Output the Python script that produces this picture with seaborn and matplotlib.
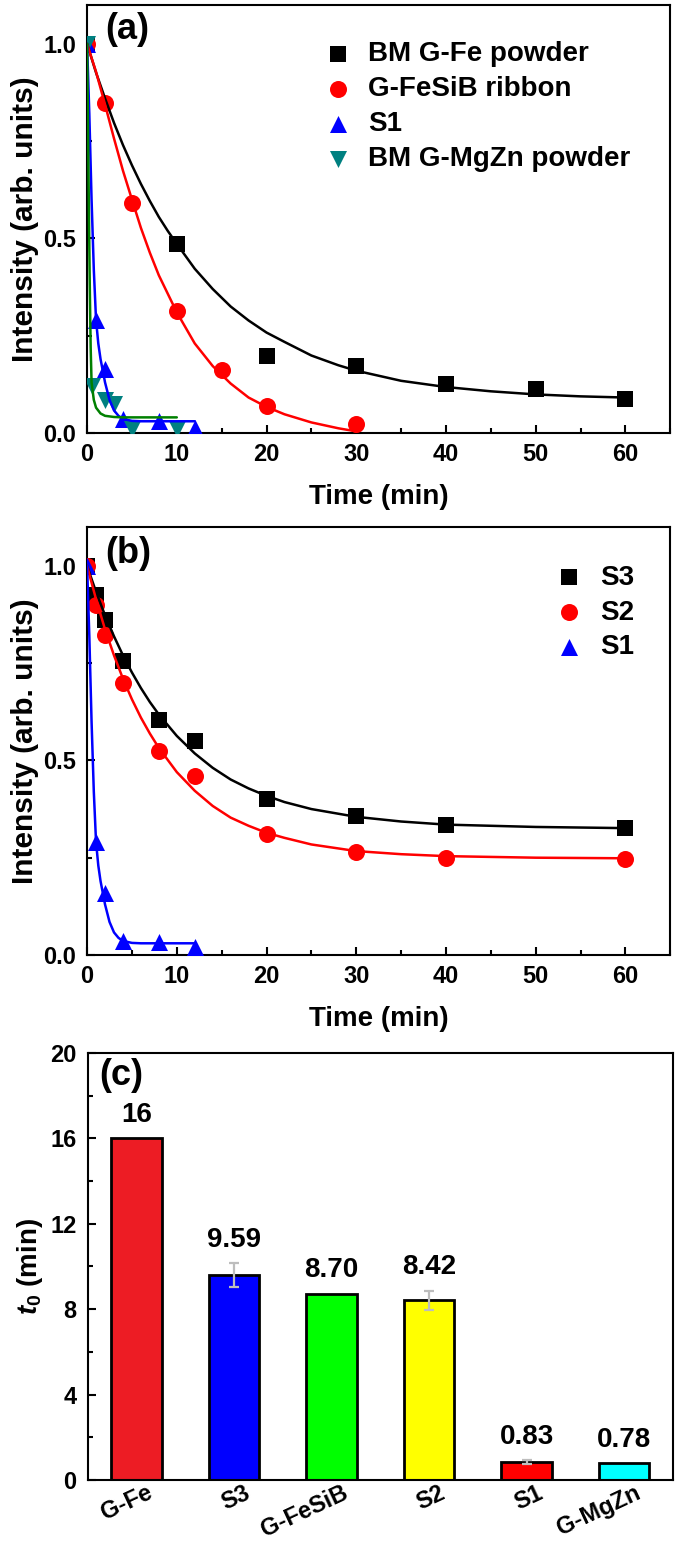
import numpy as np
import pandas as pd
import matplotlib
matplotlib.use('Agg')
import matplotlib.pyplot as plt
import matplotlib.transforms as mtransforms
import seaborn as sns
from matplotlib.ticker import MultipleLocator

# ---- (a) puntos medidos ----
t_fe = [0, 10, 20, 30, 40, 50, 60]
i_fe = [1.0, 0.485, 0.197, 0.172, 0.126, 0.113, 0.087]
t_fesib = [0, 2, 5, 10, 15, 20, 30]
i_fesib = [1.0, 0.849, 0.592, 0.313, 0.162, 0.069, 0.023]
t_s1 = [0, 1, 2, 4, 8, 12]
i_s1 = [1.0, 0.29, 0.165, 0.035, 0.03, 0.012]
t_mgzn = [0, 0.5, 2, 3, 5, 10]
i_mgzn = [1.0, 0.12, 0.085, 0.075, 0.01, 0.01]

# ---- (a) curvas de ajuste ----
ft_fe = [0, 1, 2, 3, 4, 5, 6, 7, 8, 9, 10, 12, 14, 16, 18, 20, 22, 25, 28, 30,
         35, 40, 45, 50, 55, 60]
fi_fe = [1.0, 0.926, 0.86, 0.797, 0.74, 0.688, 0.64, 0.596, 0.555, 0.519, 0.486,
         0.422, 0.37, 0.325, 0.289, 0.258, 0.234, 0.199, 0.174, 0.16,
         0.134, 0.118, 0.107, 0.099, 0.094, 0.091]
ft_fesib = [0, 1, 2, 3, 4, 5, 6, 7, 8, 10, 12, 14, 16, 18, 20, 22, 25, 28, 30]
fi_fesib = [1.0, 0.928, 0.844, 0.757, 0.674, 0.6, 0.527, 0.463, 0.405, 0.31, 0.23,
            0.172, 0.127, 0.091, 0.067, 0.048, 0.027, 0.012, 0.004]
ft_s1 = [0, 0.25, 0.5, 0.75, 1, 1.25, 1.5, 2, 2.5, 3, 3.5, 4, 5, 6, 8, 10, 12]
fi_s1 = [1.0, 0.82, 0.6, 0.42, 0.29, 0.23, 0.19, 0.13, 0.085, 0.058, 0.044, 0.036,
         0.031, 0.03, 0.03, 0.03, 0.03]
ft_mgzn = [0, 0.1, 0.2, 0.3, 0.4, 0.5, 0.75, 1, 1.5, 2, 3, 4, 6, 8, 10]
fi_mgzn = [1.0, 0.8, 0.58, 0.38, 0.22, 0.13, 0.085, 0.065, 0.05, 0.044, 0.041,
           0.04, 0.04, 0.04, 0.04]

# ---- (b) puntos medidos ----
t_b = [0, 1, 2, 4, 8, 12, 20, 30, 40, 60]
i_s3 = [1.0, 0.925, 0.86, 0.755, 0.603, 0.55, 0.402, 0.358, 0.335, 0.327]
i_s2 = [1.0, 0.9, 0.822, 0.698, 0.523, 0.461, 0.312, 0.265, 0.25, 0.247]
t_s1b = [0, 1, 2, 4, 8, 12]
i_s1b = [1.0, 0.29, 0.16, 0.037, 0.033, 0.02]

# ---- (b) curvas de ajuste ----
ft_b = [0, 1, 2, 3, 4, 5, 6, 7, 8, 10, 12, 14, 16, 18, 20, 22, 25, 30, 35, 40,
        50, 60]
fi_s3 = [1.0, 0.933, 0.873, 0.819, 0.77, 0.726, 0.686, 0.65, 0.618, 0.563, 0.518,
         0.481, 0.451, 0.428, 0.409, 0.393, 0.375, 0.355, 0.343, 0.335, 0.329, 0.326]
fi_s2 = [1.0, 0.914, 0.837, 0.77, 0.71, 0.657, 0.61, 0.569, 0.532, 0.47, 0.422,
         0.383, 0.353, 0.332, 0.314, 0.301, 0.284, 0.267, 0.259, 0.254, 0.25, 0.2485]

# ---- (c) barras ----
muestras = ['G-Fe', 'S3', 'G-FeSiB', 'S2', 'S1', 'G-MgZn']
t0 = [16, 9.59, 8.70, 8.42, 0.83, 0.78]
t0_err = [0, 0.56, 0, 0.45, 0.08, 0]
t0_txt = ['16', '9.59', '8.70', '8.42', '0.83', '0.78']
colores_c = ['#ED1C24', '#0000FF', '#00FF00', '#FFFF00', '#FF0000', '#00FFFF']

sns.set_theme(style='ticks')
plt.rcParams['font.family'] = ['Liberation Sans', 'DejaVu Sans']
plt.rcParams['font.weight'] = 'bold'
plt.rcParams['axes.labelweight'] = 'bold'
plt.rcParams['mathtext.fontset'] = 'custom'
plt.rcParams['mathtext.it'] = 'Liberation Sans:bold:italic'
plt.rcParams['mathtext.rm'] = 'Liberation Sans:bold'
plt.rcParams['axes.linewidth'] = 1.5
# todo en negro, no el gris de seaborn
for k in ['text.color', 'axes.labelcolor', 'axes.edgecolor', 'xtick.color',
          'ytick.color']:
    plt.rcParams[k] = 'black'

fig = plt.figure(figsize=(6.75, 15.44), dpi=100)
ax_a = fig.add_axes([0.129, 0.7196, 0.864, 0.2772])
ax_b = fig.add_axes([0.129, 0.3815, 0.864, 0.2772])
ax_c = fig.add_axes([0.130, 0.0415, 0.8667, 0.2766])

estilo = {
    'fe': dict(color='black', line='black', marker='s', s=117),
    'fesib': dict(color='#FF0000', line='#FF0000', marker='o', s=150),
    's1': dict(color='#0000FF', line='#0000FF', marker='^', s=150),
    'mgzn': dict(color='#008080', line='#008000', marker='v', s=150),
}


def serie(ax, t, v, ft, fv, key, label):
    st = estilo[key]
    sns.scatterplot(x=t, y=v, color=st['color'], marker=st['marker'], s=st['s'],
                    linewidth=0, label=label, ax=ax, zorder=3)
    sns.lineplot(x=ft, y=fv, color=st['line'], linewidth=1.8, ax=ax, zorder=4)


def ejes_decay(ax, letra, y_letra):
    ax.set_xlim(0, 65)
    ax.set_ylim(0, 1.1)
    ax.xaxis.set_major_locator(MultipleLocator(10))
    ax.xaxis.set_minor_locator(MultipleLocator(5))
    ax.yaxis.set_major_locator(MultipleLocator(0.5))
    ax.yaxis.set_minor_locator(MultipleLocator(0.25))
    ax.tick_params(which='both', direction='in', width=1.5, labelsize=17,
                   top=False, right=False)
    ax.tick_params(which='major', length=6)
    ax.tick_params(which='minor', length=3.5)
    ax.tick_params(axis='x', pad=7)
    ax.tick_params(axis='y', pad=8)
    ax.set_xlabel('Time (min)', fontsize=20, labelpad=13)
    ax.set_ylabel('Intensity (arb. units)', fontsize=21.5, labelpad=3)
    ax.text(0.031, y_letra, letra, transform=ax.transAxes, fontsize=26,
            fontweight='bold', va='center', ha='left')


def leyenda(ax, x, y):
    ax.legend(loc='upper left', bbox_to_anchor=(x, y), frameon=False,
              fontsize=20, handlelength=1.0, handletextpad=0.6, labelspacing=0.32,
              borderpad=0, borderaxespad=0)


# (a)
serie(ax_a, t_fe, i_fe, ft_fe, fi_fe, 'fe', 'BM G-Fe powder')
serie(ax_a, t_fesib, i_fesib, ft_fesib, fi_fesib, 'fesib', 'G-FeSiB ribbon')
serie(ax_a, t_s1, i_s1, ft_s1, fi_s1, 's1', 'S1')
serie(ax_a, t_mgzn, i_mgzn, ft_mgzn, fi_mgzn, 'mgzn', 'BM G-MgZn powder')
ejes_decay(ax_a, '(a)', 0.942)
leyenda(ax_a, 0.406, 0.915)

# (b)
serie(ax_b, t_b, i_s3, ft_b, fi_s3, 'fe', 'S3')
serie(ax_b, t_b, i_s2, ft_b, fi_s2, 'fesib', 'S2')
serie(ax_b, t_s1b, i_s1b, ft_s1, fi_s1, 's1', 'S1')
ejes_decay(ax_b, '(b)', 0.938)
leyenda(ax_b, 0.803, 0.912)

# (c)
df_c = pd.DataFrame({'muestra': muestras, 't0': t0, 'err': t0_err, 'txt': t0_txt})
sns.barplot(data=df_c, x='muestra', y='t0', hue='muestra', palette=colores_c,
            legend=False, width=0.52, edgecolor='black', linewidth=2,
            saturation=1, ax=ax_c, zorder=2)
pos = np.arange(len(muestras))
con_err = df_c['err'] > 0
ax_c.errorbar(pos[con_err], df_c['t0'][con_err], yerr=df_c['err'][con_err],
              fmt='none', ecolor='#BDBDBD', elinewidth=1.6, capsize=3.5,
              capthick=1.6, zorder=3)
for i, fila in df_c.iterrows():
    ax_c.text(i, fila['t0'] + fila['err'] + 0.5, fila['txt'], ha='center',
              va='bottom', fontsize=20, fontweight='bold')
ax_c.set_xlim(-0.5, 5.5)
ax_c.set_ylim(0, 20)
ax_c.yaxis.set_major_locator(MultipleLocator(4))
ax_c.yaxis.set_minor_locator(MultipleLocator(2))
ax_c.tick_params(which='both', direction='in', width=1.5, labelsize=17,
                 top=False, right=False)
ax_c.tick_params(which='major', length=6)
ax_c.tick_params(which='minor', length=3.5)
ax_c.tick_params(axis='x', length=0, pad=1)
ax_c.tick_params(axis='y', pad=8)
desplaza = mtransforms.ScaledTranslation(10 / 100, 0, fig.dpi_scale_trans)
for lab in ax_c.get_xticklabels():
    lab.set_rotation(25)
    lab.set_ha('right')
    lab.set_rotation_mode('anchor')
    lab.set_transform(lab.get_transform() + desplaza)
ax_c.set_xlabel('')
ax_c.set_ylabel(r'$t_0$ (min)', fontsize=20, labelpad=4)
ax_c.text(0.02, 0.946, '(c)', transform=ax_c.transAxes, fontsize=26,
          fontweight='bold', va='center', ha='left')

for ax in (ax_a, ax_b, ax_c):
    for sp in ax.spines.values():
        sp.set_visible(True)
        sp.set_linewidth(1.5)
        sp.set_color('black')

fig.savefig('out.png', dpi=100)
